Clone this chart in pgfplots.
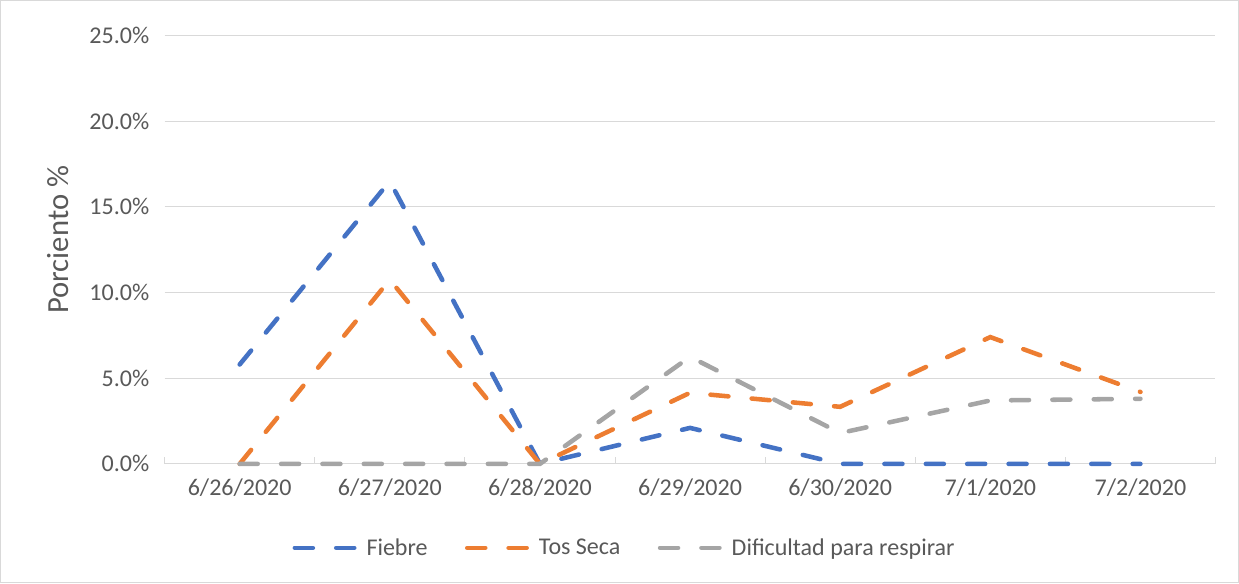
\documentclass[border=0pt]{standalone}
\usepackage{pgfplots}
\pgfplotsset{compat=1.18}
\usepackage{fontspec}
\setmainfont{Carlito}
\definecolor{cBlue}{HTML}{4472C4}
\definecolor{cOrange}{HTML}{ED7D31}
\definecolor{cGray}{HTML}{A5A5A5}
\definecolor{cText}{HTML}{595959}
\definecolor{cGrid}{HTML}{D9D9D9}
\begin{document}
\begin{tikzpicture}
\draw[cGrid, line width=0.75pt] (0.75pt,0.75pt) rectangle (928.5pt,437.25pt);
\begin{axis}[
  at={(123.75pt,90pt)}, anchor=south west,
  scale only axis, width=787.5pt, height=321pt,
  xmin=-0.5, xmax=6.5, ymin=0, ymax=25,
  xtick={0,...,6},
  xticklabels={6/26/2020,6/27/2020,6/28/2020,6/29/2020,6/30/2020,7/1/2020,7/2/2020},
  extra x ticks={-0.5,0.5,...,6.5},
  extra x tick labels={},
  extra x tick style={major tick length=5pt, tick style={cGrid, line width=0.75pt}, grid=none},
  ytick={0,5,...,25},
  yticklabel={\pgfmathprintnumber[fixed,fixed zerofill,precision=1]{\tick}\%},
  /pgf/number format/assume math mode=true,
  ymajorgrids, grid style={cGrid, line width=0.75pt},
  axis x line*=bottom, axis y line*=left,
  x axis line style={cGrid, line width=0.75pt, -},
  y axis line style={draw=none},
  major tick length=0pt,
  tick label style={font=\fontsize{18}{21}\selectfont, text=cText},
  xticklabel style={yshift=-8pt},
  yticklabel style={xshift=-8pt},
  ylabel={Porciento \%},
  every axis y label/.style={at={(axis description cs:-0.101,0.523)}, rotate=90, anchor=center, font=\fontsize{23}{26}\selectfont, text=cText},
  legend style={at={(0.438,-0.196)}, anchor=center, draw=none, font=\fontsize{18}{21}\selectfont, text=cText, legend columns=3,
    /tikz/every odd column/.append style={column sep=4pt},
    /tikz/every even column/.append style={column sep=26pt}},
  legend image code/.code={\draw[#1] (0pt,0pt) -- (46pt,0pt);},
  every axis plot/.append style={line width=3.4pt, line cap=round, dash pattern=on 13.5pt off 17.5pt},
  clip=false,
]
\addplot[cBlue] coordinates {(0,5.8) (1,16.5) (2,0) (3,2.1) (4,0) (5,0) (6,0)};
\addlegendentry{Fiebre}
\addplot[cOrange] coordinates {(0,0) (1,10.75) (2,0) (3,4.15) (4,3.33) (5,7.4) (6,4.2)};
\addlegendentry{Tos Seca}
\addplot[cGray] coordinates {(0,0) (1,0) (2,0) (3,6.25) (4,1.8) (5,3.7) (6,3.8)};
\addlegendentry{Dificultad para respirar}
\end{axis}
\end{tikzpicture}
\end{document}
